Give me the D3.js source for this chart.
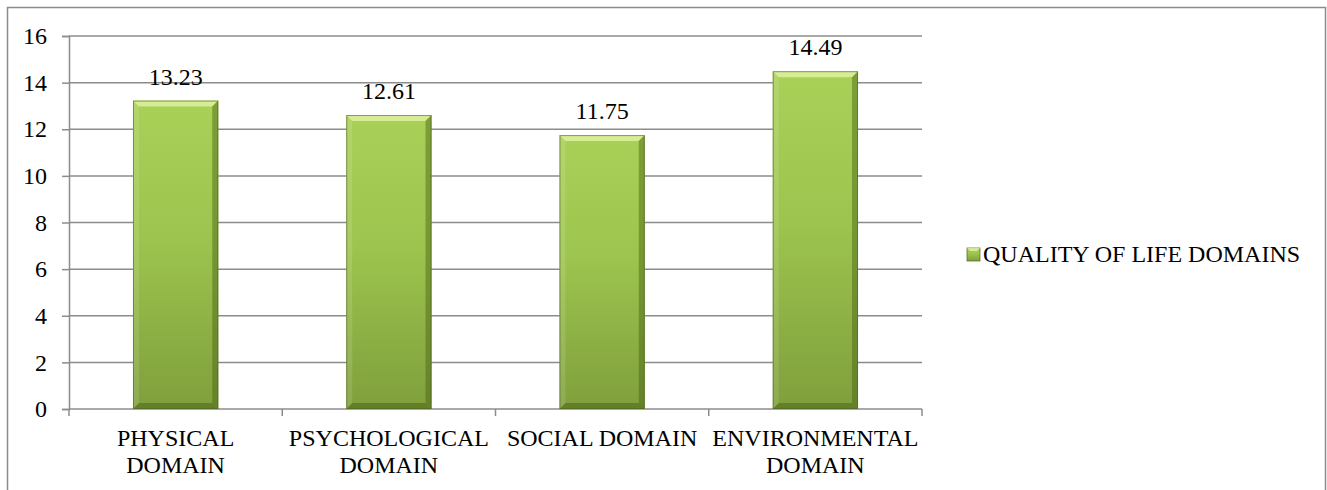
<!DOCTYPE html>
<html>
<head>
<meta charset="utf-8">
<script src="https://cdn.jsdelivr.net/npm/d3@7"></script>
</head>
<body style="margin:0">
<script>
const categories = ["PHYSICAL DOMAIN", "PSYCHOLOGICAL DOMAIN", "SOCIAL DOMAIN", "ENVIRONMENTAL DOMAIN"]
const values = [13.23, 12.61, 11.75, 14.49]
const yTicks = [0, 2, 4, 6, 8, 10, 12, 14, 16]
const seriesName = "QUALITY OF LIFE DOMAINS"

const
  width = 1327,
  height = 490,
  fontSize = "24px",
  font = "'Liberation Serif'",
  plot = { left: 69, right: 922, top: 36, bottom: 409 },
  bevel = 6

const svg = d3.select("body").append("svg")
  .attr("width", width)
  .attr("height", height)
  .style("font-family", font)

const defs = svg.append("defs")
const grad = defs.append("linearGradient")
  .attr("id", "barFill").attr("x1", 0).attr("y1", 0).attr("x2", 0).attr("y2", 1)
grad.append("stop").attr("offset", "0%").attr("stop-color", "#a9d057")
grad.append("stop").attr("offset", "45%").attr("stop-color", "#9dc44e")
grad.append("stop").attr("offset", "100%").attr("stop-color", "#7f9f3c")

// outer frame
svg.append("rect")
  .attr("x", 7.5).attr("y", 7.5)
  .attr("width", 1318).attr("height", 500)
  .attr("fill", "none")
  .attr("stroke", "#8c8c8c")
  .attr("stroke-width", 1.5)

const x = d3.scaleBand()
  .domain(categories)
  .range([plot.left, plot.right])
  .paddingInner(0.6)
  .paddingOuter(0.3)

const y = d3.scaleLinear()
  .domain([0, 16])
  .range([plot.bottom, plot.top])

// gridlines
svg.append("g")
  .selectAll("line")
  .data(yTicks.filter(d => d > 0))
  .join("line")
  .attr("x1", plot.left).attr("x2", plot.right)
  .attr("y1", d => y(d)).attr("y2", d => y(d))
  .attr("stroke", "#8c8c8c")
  .attr("stroke-width", 1.5)

// y axis
const yAxis = svg.append("g")
  .attr("transform", `translate(${plot.left},0)`)
  .call(d3.axisLeft(y).tickValues(yTicks).tickSize(7).tickPadding(15).tickFormat(d3.format("d")))
yAxis.attr("font-family", null).attr("font-size", null)
yAxis.select(".domain").attr("stroke", "#8c8c8c").attr("stroke-width", 1.5)
yAxis.selectAll(".tick line").attr("stroke", "#8c8c8c").attr("stroke-width", 1.5)
yAxis.selectAll("text")
  .style("font-family", font)
  .style("font-size", fontSize)
  .attr("fill", "#000")

// x axis: ticks on category boundaries
const boundaries = d3.range(categories.length + 1).map(i => plot.left + i * x.step())
const xAxis = svg.append("g")
xAxis.append("line")
  .attr("x1", plot.left).attr("x2", plot.right)
  .attr("y1", plot.bottom).attr("y2", plot.bottom)
  .attr("stroke", "#8c8c8c").attr("stroke-width", 1.5)
xAxis.selectAll(".btick")
  .data(boundaries)
  .join("line")
  .attr("class", "btick")
  .attr("x1", d => d).attr("x2", d => d)
  .attr("y1", plot.bottom).attr("y2", plot.bottom + 7)
  .attr("stroke", "#8c8c8c").attr("stroke-width", 1.5)

// category labels, wrapped when wider than the band step
const maxLabel = x.step() - 4
xAxis.selectAll(".xlabel")
  .data(categories)
  .join("text")
  .attr("class", "xlabel")
  .attr("text-anchor", "middle")
  .style("font-family", font)
  .style("font-size", fontSize)
  .attr("x", d => x(d) + x.bandwidth() / 2)
  .attr("y", 446)
  .each(function (d) {
    const t = d3.select(this)
    const words = d.split(" ")
    let line = [], lines = []
    words.forEach(w => {
      t.text(line.concat(w).join(" "))
      if (this.getComputedTextLength() > maxLabel && line.length) {
        lines.push(line.join(" "))
        line = [w]
      } else {
        line.push(w)
      }
    })
    lines.push(line.join(" "))
    t.text(null)
    lines.forEach((l, i) => {
      t.append("tspan")
        .attr("x", x(d) + x.bandwidth() / 2)
        .attr("dy", i === 0 ? 0 : 27)
        .text(l)
    })
  })

// bars with bevel
const bars = svg.append("g")
  .selectAll("g")
  .data(categories.map((c, i) => ({ c, v: values[i] })))
  .join("g")

bars.append("rect")
  .attr("x", d => x(d.c))
  .attr("y", d => y(d.v))
  .attr("width", x.bandwidth())
  .attr("height", d => y(0) - y(d.v))
  .attr("fill", "url(#barFill)")

const bevelPoly = (d, side) => {
  const x0 = x(d.c), x1 = x0 + x.bandwidth(), y0 = y(d.v), y1 = y(0), b = bevel
  if (side === "top") return [[x0, y0], [x1, y0], [x1 - b, y0 + b], [x0 + b, y0 + b]]
  if (side === "left") return [[x0, y0], [x0 + b, y0 + b], [x0 + b, y1 - b], [x0, y1]]
  if (side === "right") return [[x1, y0], [x1 - b, y0 + b], [x1 - b, y1 - b], [x1, y1]]
  return [[x0, y1], [x0 + b, y1 - b], [x1 - b, y1 - b], [x1, y1]]
}
const bevelFill = { top: "rgba(230,245,170,0.75)", left: "rgba(255,255,255,0.12)", right: "rgba(70,95,20,0.45)", bottom: "rgba(70,95,20,0.5)" }
;["top", "left", "right", "bottom"].forEach(side => {
  bars.append("polygon")
    .attr("points", d => bevelPoly(d, side).map(p => p.join(",")).join(" "))
    .attr("fill", bevelFill[side])
})
bars.append("rect")
  .attr("x", d => x(d.c) + 0.5)
  .attr("y", d => y(d.v) + 0.5)
  .attr("width", x.bandwidth() - 1)
  .attr("height", d => y(0) - y(d.v) - 1)
  .attr("fill", "none")
  .attr("stroke", "rgba(80,100,30,0.6)")
  .attr("stroke-width", 1)

// value labels
bars.append("text")
  .attr("text-anchor", "middle")
  .style("font-family", font)
  .style("font-size", fontSize)
  .attr("x", d => x(d.c) + x.bandwidth() / 2)
  .attr("y", d => y(d.v) - 16)
  .text(d => d3.format(".2f")(d.v))

// legend
const legend = svg.append("g").attr("transform", "translate(967,248)")
legend.append("rect")
  .attr("width", 13).attr("height", 13)
  .attr("fill", "url(#barFill)")
  .attr("stroke", "rgba(80,100,30,0.7)")
legend.append("polygon")
  .attr("points", "0,0 13,0 10,3 3,3")
  .attr("fill", bevelFill.top)
legend.append("text")
  .attr("x", 16)
  .attr("y", 14)
  .style("font-family", font)
  .style("font-size", fontSize)
  .text(seriesName)
</script>
</body>
</html>
